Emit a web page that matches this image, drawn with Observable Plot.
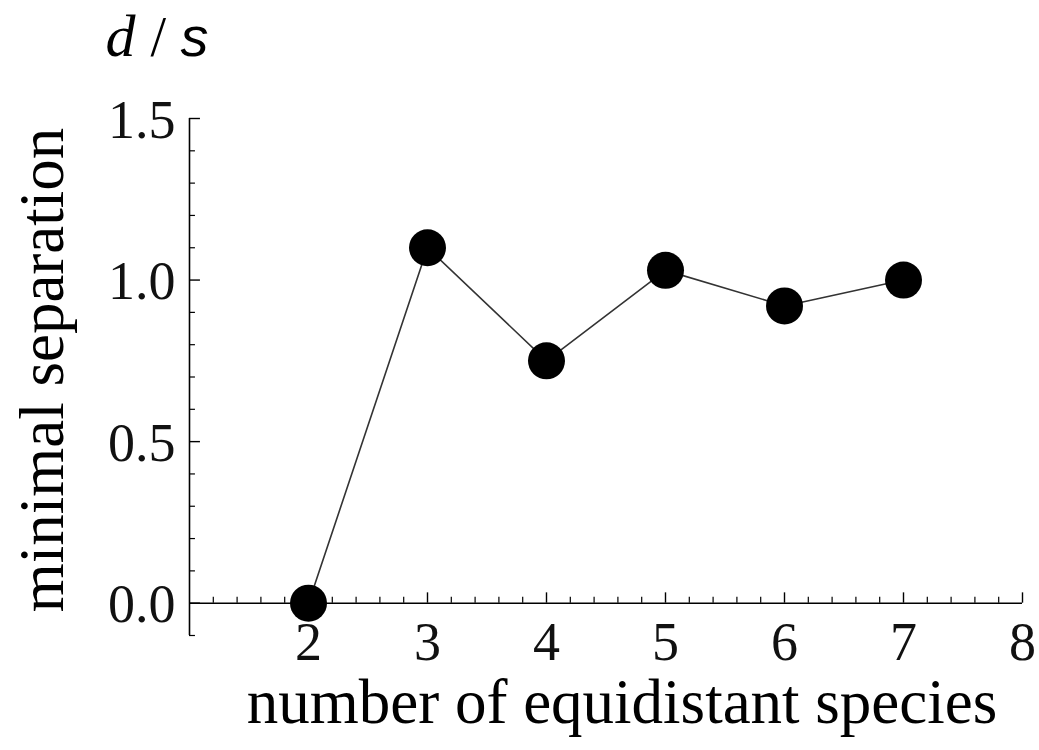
<!DOCTYPE html>
<html>
<head>
<meta charset="utf-8">
<script src="https://cdn.jsdelivr.net/npm/d3@7"></script>
<script src="https://cdn.jsdelivr.net/npm/@observablehq/plot@0.6"></script>
<style>
  html, body { margin: 0; padding: 0; background: #fff; }
  svg { display: block; }
</style>
</head>
<body>
<div id="chart"></div>
<script>
// Data
const species = [2, 3, 4, 5, 6, 7];
const separation = [0, 1.10, 0.75, 1.03, 0.92, 1.00];

// Tick labels
const xTickValues = [2, 3, 4, 5, 6, 7, 8];
const xTickLabels = ["2", "3", "4", "5", "6", "7", "8"];
const yTickValues = [0, 0.5, 1.0, 1.5];
const yTickLabels = ["0.0", "0.5", "1.0", "1.5"];

const xLabel = "number of equidistant species";
const yLabel = "minimal separation";

const data = species.map((s, i) => ({ n: s, d: separation[i] }));

const xMinor = d3.range(1.2, 8, 0.2).filter(v => Math.abs(v - Math.round(v)) > 1e-6);
const yMinor = d3.range(-0.1, 1.5, 0.1).filter(v => Math.abs(v * 2 - Math.round(v * 2)) > 1e-6);

const serif = "'Liberation Serif', 'Times New Roman', serif";
const sans = "'Liberation Sans', Arial, sans-serif";

const plot = Plot.plot({
  width: 1039,
  height: 750,
  marginLeft: 189,
  marginRight: 17,
  marginTop: 118,
  marginBottom: 115,
  x: { domain: [1, 8], axis: null },
  y: { domain: [-0.1, 1.5], axis: null },
  style: { fontFamily: serif, background: "#fff", overflow: "visible" },
  marks: [
    // axes lines
    Plot.ruleY([0], { x1: 1, x2: 8, stroke: "#000", strokeWidth: 1.6 }),
    Plot.ruleX([1], { y1: -0.1, y2: 1.5, stroke: "#000", strokeWidth: 1.6 }),
    // x ticks (pointing up)
    Plot.ruleX(xTickValues, { x: d => d, y1: 0, y2: 0.032, stroke: "#000", strokeWidth: 1.4 }),
    Plot.ruleX(xMinor, { x: d => d, y1: 0, y2: 0.018, stroke: "#000", strokeWidth: 1.2 }),
    // y ticks (pointing right)
    Plot.ruleY(yTickValues, { y: d => d, x1: 1, x2: 1.092, stroke: "#000", strokeWidth: 1.4 }),
    Plot.ruleY(yMinor, { y: d => d, x1: 1, x2: 1.05, stroke: "#000", strokeWidth: 1.2 }),
    // tick labels
    Plot.text(xTickValues, {
      x: d => d, y: 0, text: (d, i) => xTickLabels[i],
      lineAnchor: "bottom", dy: 57, fontSize: 54, fill: "#111"
    }),
    Plot.text(yTickValues, {
      x: 1, y: d => d, text: (d, i) => yTickLabels[i],
      textAnchor: "end", lineAnchor: "bottom", dx: -14, dy: 19, fontSize: 54, fill: "#111"
    }),
    // line and points
    Plot.line(data, { x: "n", y: "d", stroke: "#333", strokeWidth: 1.6 }),
    Plot.dot(data, { x: "n", y: "d", r: 18.5, fill: "#000", stroke: "none" }),
    // axis labels
    Plot.text([xLabel], {
      frameAnchor: "bottom", text: d => d, lineAnchor: "bottom", textAnchor: "middle",
      dx: 16, dy: 87, fontSize: 63, fill: "#000"
    }),
    Plot.text([yLabel], {
      frameAnchor: "left", text: d => d, rotate: -90, lineAnchor: "bottom", textAnchor: "middle",
      dx: -127, dy: -7, fontSize: 63, fill: "#000"
    }),
    // top label d / s
    Plot.text(["d"], {
      frameAnchor: "top-left", text: d => d, textAnchor: "start", lineAnchor: "bottom",
      dx: -84, dy: -63, fontSize: 60, fontStyle: "italic", fill: "#000"
    }),
    Plot.text(["/"], {
      frameAnchor: "top-left", text: d => d, textAnchor: "start", lineAnchor: "bottom",
      dx: -39, dy: -63, fontSize: 56, fill: "#000"
    }),
    Plot.text(["s"], {
      frameAnchor: "top-left", text: d => d, textAnchor: "start", lineAnchor: "bottom",
      dx: -9, dy: -63, fontSize: 56, fontStyle: "italic",
      fontFamily: sans, fill: "#000"
    })
  ]
});

document.getElementById("chart").appendChild(plot);
</script>
</body>
</html>
